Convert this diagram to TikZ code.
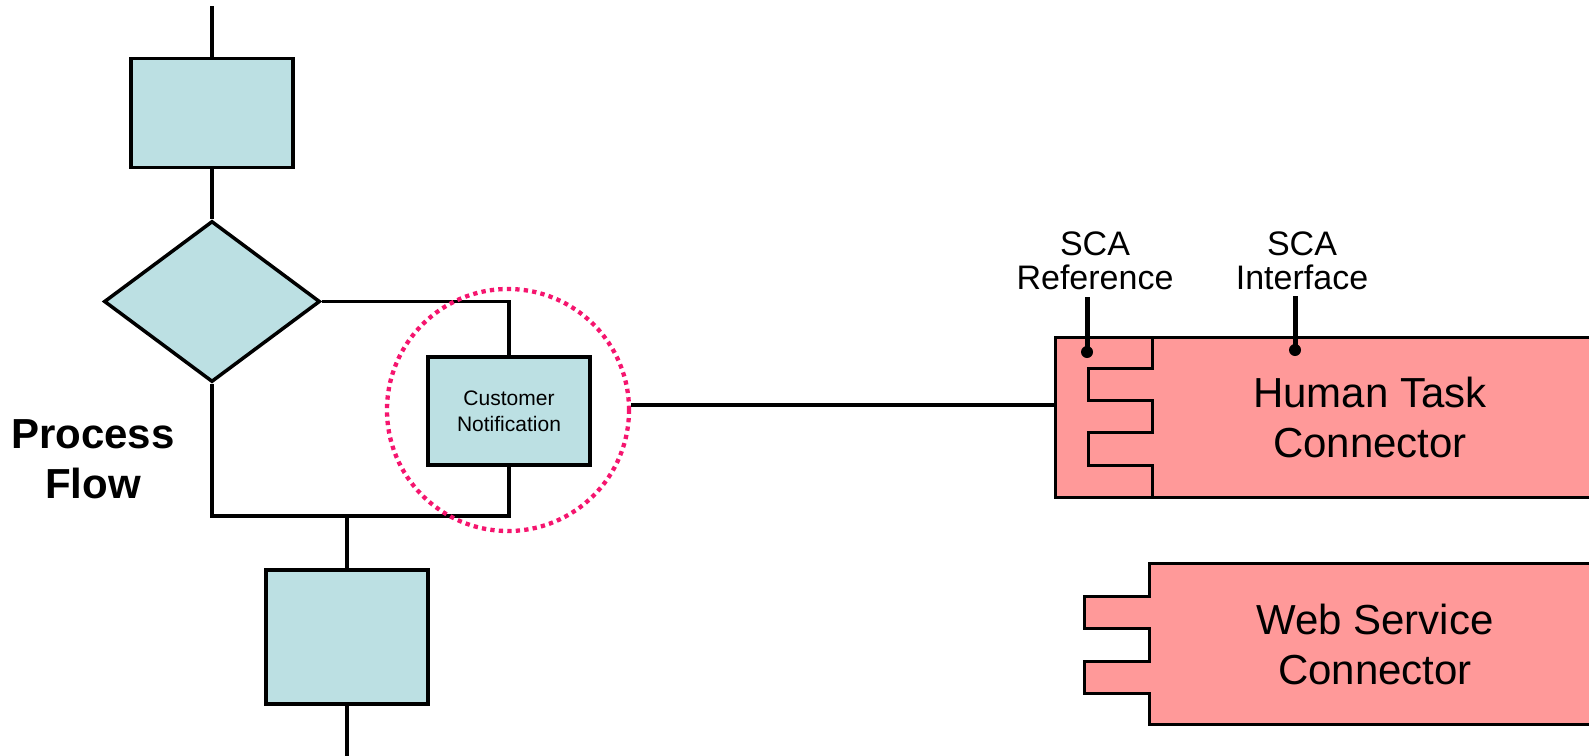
\documentclass[tikz,border=0pt]{standalone}
\usepackage{fontspec}
\setmainfont{Liberation Sans}
\usetikzlibrary{shapes.geometric}
\definecolor{flowblue}{HTML}{BCE0E3}
\definecolor{conpink}{HTML}{FF9999}
\definecolor{dotpink}{HTML}{F5156E}
\tikzset{
  flowbox/.style={draw=black, fill=flowblue, line width=3.5pt, inner sep=0pt, rectangle},
  flowline/.style={draw=black, line width=3.3pt},
  decision/.style={draw=black, fill=flowblue, line width=3.5pt, inner sep=0pt, diamond, shape aspect=1},
  conshape/.style={draw=black, fill=conpink, line width=3pt, line join=miter},
  pinline/.style={draw=black, line width=5pt},
  linkline/.style={draw=black, line width=4.5pt},
  focus/.style={draw=dotpink, line width=4.3pt, dash pattern=on 4.3pt off 4.2pt, circle, inner sep=0pt, minimum size=242pt},
  bigtext/.style={font=\fontsize{42}{50}\selectfont, align=center, inner sep=0pt},
  pintext/.style={font=\fontsize{34}{34}\selectfont, align=center, inner sep=0pt},
}
\begin{document}
\begin{tikzpicture}[x=1pt,y=-1pt]
\useasboundingbox (0,0) rectangle (1589,755);
\clip (0,0) rectangle (1589,755);

% ---------- process flow ----------
\coordinate (top) at (212,6);
\node[flowbox, minimum width=162pt, minimum height=109pt] (r1) at (212,113) {};
\node[decision, minimum width=216pt, minimum height=161pt] (d) at (212,301.5) {};
\node[flowbox, minimum width=162pt, minimum height=108pt, font=\fontsize{21}{26}\selectfont, align=center] (cn) at (509,411) {Customer\\Notification};
\node[flowbox, minimum width=162pt, minimum height=134pt] (r2) at (347,637) {};
\coordinate (ml) at (212,516);
\coordinate (bot) at (347,760);

\draw[flowline] (top) -- (r1.north);
\draw[flowline] (r1.south) -- (d.north);
\draw[flowline] (d.east) -| (cn.north);
\draw[flowline] (d.south) -- (ml) -| (cn.south);
\draw[flowline] (r2.north |- ml) -- (r2.north);
\draw[flowline] (r2.south) -- (bot);

\node[bigtext, font=\bfseries\fontsize{42}{50}\selectfont] (pf) at (93,459) {Process\\Flow};

% ---------- focus circle and link ----------
\node[focus] (circ) at (508,410) {};
\coordinate (htcin) at (1055,405);
\draw[linkline] (circ.east |- htcin) -- (htcin);

% ---------- Human Task Connector ----------
\path[conshape] (1600,337) -- (1055,337) -- (1055,497) -- (1600,497);
\draw[conshape, fill=none] (1152,337) -- (1152,368) -- (1088,368) -- (1088,400) -- (1152,400)
  -- (1152,432) -- (1088,432) -- (1088,465) -- (1152,465) -- (1152,497);
\node[bigtext] (htc) at (1370,417) {Human Task\\Connector};

% pins
\node[pintext] (scaref) at (1095,261) {SCA\\Reference};
\node[pintext] (scaif) at (1302,261) {SCA\\Interface};
\coordinate (refpin) at (1087,297);
\coordinate (refdot) at (1087,352);
\coordinate (ifpin) at (1295,296);
\coordinate (ifdot) at (1295,350);
\draw[pinline] (refpin) -- (refdot);
\draw[pinline] (ifpin) -- (ifdot);
\fill (refdot) circle[radius=6pt];
\fill (ifdot) circle[radius=6pt];

% ---------- Web Service Connector ----------
\path[conshape] (1600,563) -- (1149,563) -- (1149,596) -- (1084,596) -- (1084,628) -- (1149,628)
  -- (1149,661) -- (1084,661) -- (1084,693) -- (1149,693) -- (1149,724) -- (1600,724);
\node[bigtext] (wsc) at (1375,644) {Web Service\\Connector};
\end{tikzpicture}
\end{document}
